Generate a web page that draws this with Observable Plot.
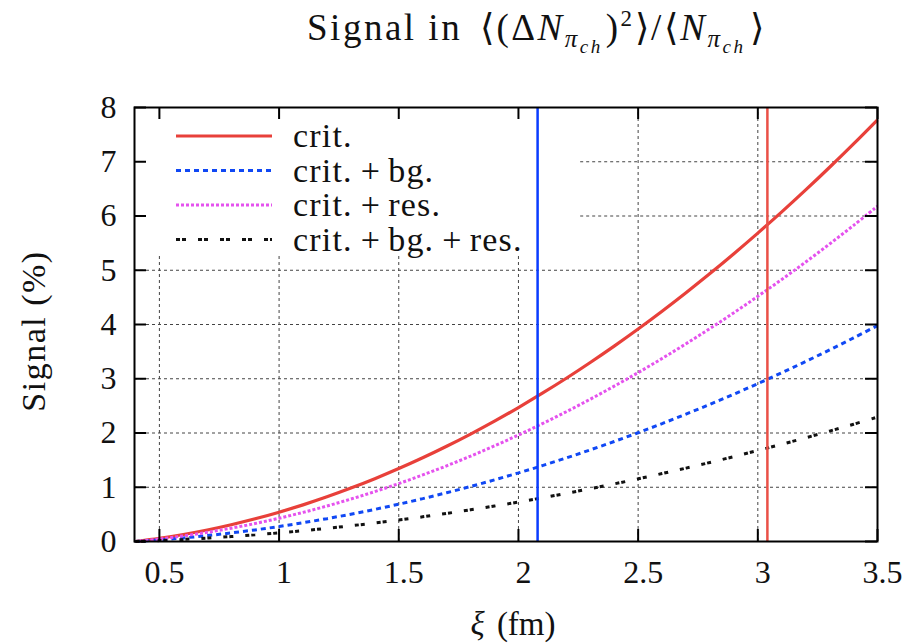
<!DOCTYPE html>
<html>
<head>
<meta charset="utf-8">
<script src="https://cdn.jsdelivr.net/npm/d3@7"></script>
<script src="https://cdn.jsdelivr.net/npm/@observablehq/plot@0.6"></script>
<style>
  html, body { margin: 0; padding: 0; background: #fff; }
  svg { display: block; }
</style>
</head>
<body>
<div id="chart"></div>
<script>
// ---- data ----
const xi = [0.4,0.5,0.6,0.7,0.8,0.9,1.0,1.1,1.2,1.3,1.4,1.5,1.6,1.7,1.8,1.9,2.0,2.1,2.2,2.3,2.4,2.5,2.6,2.7,2.8,2.9,3.0,3.1,3.2,3.3,3.4,3.5];
const crit = [0,0.058,0.129,0.212,0.309,0.418,0.540,0.675,0.823,0.984,1.157,1.344,1.543,1.755,1.980,2.218,2.469,2.733,3.009,3.299,3.601,3.916,4.244,4.585,4.938,5.305,5.684,6.076,6.481,6.899,7.330,7.774];
const critRes = [0,0.046,0.103,0.169,0.246,0.332,0.429,0.537,0.654,0.782,0.920,1.068,1.227,1.395,1.574,1.763,1.963,2.173,2.392,2.623,2.863,3.113,3.374,3.645,3.926,4.217,4.519,4.830,5.152,5.485,5.827,6.180];
const critBg = [0,0.030,0.066,0.109,0.158,0.214,0.276,0.346,0.421,0.504,0.592,0.688,0.790,0.899,1.014,1.136,1.264,1.399,1.541,1.689,1.844,2.005,2.173,2.348,2.528,2.716,2.910,3.111,3.318,3.532,3.753,3.980];
const critBgRes = [0,0.017,0.038,0.063,0.091,0.123,0.159,0.199,0.243,0.290,0.341,0.396,0.455,0.518,0.584,0.654,0.728,0.806,0.888,0.973,1.062,1.155,1.252,1.353,1.457,1.565,1.677,1.792,1.912,2.035,2.162,2.293];
const seriesNames = ["crit.", "crit.+bg.", "crit.+res.", "crit.+bg.+res."];
const xTicks = [0.5,1,1.5,2,2.5,3,3.5];
const yTicks = [0,1,2,3,4,5,6,7,8];
const blueMarker = [2.08];
const redMarker = [3.04];
const xDomain = [0.396, 3.5];
const yDomain = [0, 8];
// key box (data units) that blanks the grid behind the legend
const keyXEnd = 2.26;
const keyYStart = 5.27;

// ---- styles ----
const styles = {
  "crit.":          {stroke: "#e8403a", dash: null},
  "crit.+bg.":      {stroke: "#1048f4", dash: "5,4"},
  "crit.+res.":     {stroke: "#e552ee", dash: "3,2"},
  "crit.+bg.+res.": {stroke: "#111111", dash: "4,2,4,12"}
};
const seriesValues = [crit, critBg, critRes, critBgRes];

const W = 918, H = 643;
const mL = 134, mR = 41, mT = 107, mB = 102;
const plotW = W - mL - mR, plotH = H - mT - mB;
const FONT = "'Liberation Serif', 'Times New Roman', serif";
const FS = 32;

const gridXs = xTicks.filter(d => d > xDomain[0] && d < xDomain[1]);
const gridYs = yTicks.filter(d => d > yDomain[0] && d < yDomain[1]);

const lineMarks = seriesNames.map((name, i) => {
  const rows = xi.map((x, j) => ({x, y: seriesValues[i][j]}));
  return Plot.line(rows, {
    x: "x", y: "y", curve: "catmull-rom",
    stroke: styles[name].stroke, strokeWidth: name === "crit." ? 3.2 : 3,
    strokeDasharray: styles[name].dash,
    strokeLinecap: "butt", strokeLinejoin: "miter"
  });
});

const chart = Plot.plot({
  width: W, height: H,
  marginLeft: mL, marginRight: mR, marginTop: mT, marginBottom: mB,
  style: {fontFamily: FONT, fontSize: FS + "px", color: "#111", background: "#fff"},
  x: {domain: xDomain},
  y: {domain: yDomain},
  marks: [
    // grid (blanked behind the key)
    Plot.ruleX(gridXs, {x: d => d, y1: 0, y2: d => d <= keyXEnd ? keyYStart : yDomain[1],
      stroke: "#444", strokeWidth: 1, strokeDasharray: "3,3"}),
    Plot.ruleY(gridYs, {y: d => d, x1: d => d >= keyYStart ? keyXEnd : xDomain[0], x2: xDomain[1],
      stroke: "#444", strokeWidth: 1, strokeDasharray: "3,3"}),
    // curves
    ...lineMarks,
    // vertical markers
    Plot.ruleX(blueMarker, {x: d => d, stroke: "#0a3cff", strokeWidth: 2.5}),
    Plot.ruleX(redMarker, {x: d => d, stroke: "#ea5047", strokeWidth: 2.5}),
    // inward ticks on all four sides
    Plot.tickX(xTicks, {x: d => d, insetTop: plotH - 12, stroke: "#000", strokeWidth: 2}),
    Plot.tickX(xTicks, {x: d => d, insetBottom: plotH - 12, stroke: "#000", strokeWidth: 2}),
    Plot.tickY(yTicks, {y: d => d, insetRight: plotW - 12, stroke: "#000", strokeWidth: 2}),
    Plot.tickY(yTicks, {y: d => d, insetLeft: plotW - 12, stroke: "#000", strokeWidth: 2}),
    // axis labels
    Plot.axisX({ticks: xTicks, tickSize: 0, tickPadding: 19, dx: 5, label: null, fontSize: FS, tickFormat: d => String(d)}),
    Plot.axisY({ticks: yTicks, tickSize: 0, tickPadding: 18, label: null, fontSize: FS, tickFormat: d => String(d)}),
    Plot.frame({stroke: "#000", strokeWidth: 2})
  ]
});

document.getElementById("chart").appendChild(chart);

// ---- title, axis labels and key added to the same SVG ----
const svg = d3.select(chart);

const title = svg.append("text")
  .attr("x", 537).attr("y", 40)
  .attr("text-anchor", "middle")
  .attr("letter-spacing", 2.5)
  .attr("font-family", FONT).attr("font-size", 37).attr("fill", "#111");
title.append("tspan").text("Signal in ");
title.append("tspan").attr("dx", 6).text("\u27E8(\u0394");
title.append("tspan").attr("font-style", "italic").text("N");
title.append("tspan").attr("font-style", "italic").attr("font-size", 25).attr("dy", 7).text("\u03C0");
title.append("tspan").attr("font-style", "italic").attr("font-size", 19).attr("dy", 6).text("ch");
title.append("tspan").attr("dy", -13).attr("dx", 3).text(")");
title.append("tspan").attr("font-size", 23).attr("dy", -14).text("2");
title.append("tspan").attr("dy", 14).text("\u27E9/\u27E8");
title.append("tspan").attr("font-style", "italic").text("N");
title.append("tspan").attr("font-style", "italic").attr("font-size", 25).attr("dy", 7).text("\u03C0");
title.append("tspan").attr("font-style", "italic").attr("font-size", 19).attr("dy", 6).text("ch");
title.append("tspan").attr("dy", -13).attr("dx", 5).text("\u27E9");

svg.append("text")
  .attr("transform", "translate(45,331) rotate(-90)")
  .attr("text-anchor", "middle")
  .attr("letter-spacing", 1.5)
  .attr("font-family", FONT).attr("font-size", 34).attr("fill", "#111")
  .text("Signal (%)");

const xl = svg.append("text")
  .attr("x", 513).attr("y", 635)
  .attr("text-anchor", "middle")
  .attr("font-family", FONT).attr("font-size", 33).attr("fill", "#111");
xl.append("tspan").attr("font-style", "italic").text("\u03BE");
xl.append("tspan").attr("dx", 4).text(" (fm)");

// key
const key = svg.append("g");
seriesNames.forEach((name, i) => {
  const y = 136 + i * 34.5;
  key.append("line")
    .attr("x1", 176).attr("x2", 272).attr("y1", y).attr("y2", y)
    .attr("stroke", styles[name].stroke).attr("stroke-width", 3)
    .attr("stroke-dasharray", styles[name].dash);
  const t = key.append("text")
    .attr("x", 293).attr("y", y).attr("dy", "0.33em")
    .attr("text-anchor", "start")
    .attr("letter-spacing", 1.2)
    .attr("font-family", FONT).attr("font-size", 34).attr("fill", "#111");
  name.split("+").forEach((part, k) => {
    if (k > 0) t.append("tspan").attr("dx", 8).text("+");
    t.append("tspan").attr("dx", k > 0 ? 7 : 0).text(part);
  });
});
</script>
</body>
</html>
